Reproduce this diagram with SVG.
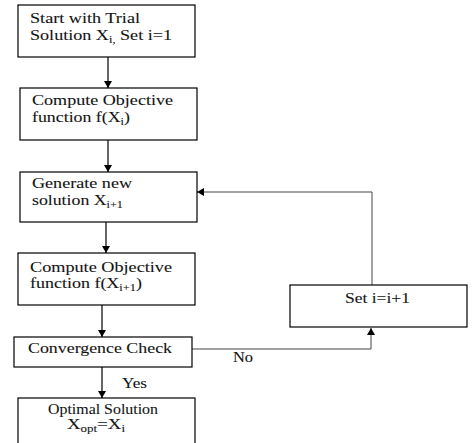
<svg xmlns="http://www.w3.org/2000/svg" width="475" height="443" viewBox="0 0 475 443">
<style>
.box{fill:#fff;stroke:#000;stroke-width:1.2}
.t{font-family:"Liberation Serif","Times New Roman",serif;font-size:14.5px;fill:#111;stroke:#333;stroke-width:0.1}
.s{font-size:10px}
.c{fill:none;stroke:#000;stroke-width:1.2}
.g{fill:none;stroke:#444;stroke-width:1}
</style>
<defs>
<marker id="ah" markerWidth="8" markerHeight="8" refX="7" refY="4" orient="auto" markerUnits="userSpaceOnUse">
<path d="M0,0 L7,4 L0,8 Z" fill="#000"/>
</marker>
</defs>
<rect width="475" height="443" fill="#fff"/>
<g id="connectors">
<line class="c" x1="108" y1="57" x2="108" y2="88" marker-end="url(#ah)"/>
<line class="c" x1="108" y1="140" x2="108" y2="172" marker-end="url(#ah)"/>
<line class="c" x1="106" y1="222" x2="106" y2="253" marker-end="url(#ah)"/>
<line class="c" x1="102" y1="305" x2="102" y2="337" marker-end="url(#ah)"/>
<line class="c" x1="102" y1="367" x2="102" y2="398" marker-end="url(#ah)"/>
<polyline class="g" points="192,349 371,349 371,328" marker-end="url(#ah)"/>
<polyline class="g" points="372,285 372,192 197,192" marker-end="url(#ah)"/>
<text class="t" x="233" y="362" textLength="20" lengthAdjust="spacingAndGlyphs">No</text>
<text class="t" x="122" y="388" textLength="25" lengthAdjust="spacingAndGlyphs">Yes</text>
</g>
<g id="start">
<rect class="box" x="18" y="5" width="177" height="52"/>
<text class="t" x="30" y="23" textLength="110" lengthAdjust="spacingAndGlyphs">Start with Trial</text>
<text class="t" x="30" y="40" textLength="142" lengthAdjust="spacingAndGlyphs">Solution X<tspan class="s" dy="3">i,</tspan><tspan dy="-3"> Set i=1</tspan></text>
</g>
<g id="compute1">
<rect class="box" x="20" y="88" width="177" height="52"/>
<text class="t" x="32" y="105" textLength="141" lengthAdjust="spacingAndGlyphs">Compute Objective</text>
<text class="t" x="32" y="122" textLength="98" lengthAdjust="spacingAndGlyphs">function f(X<tspan class="s" dy="3">i</tspan><tspan dy="-3">)</tspan></text>
</g>
<g id="generate">
<rect class="box" x="20" y="172" width="177" height="50"/>
<text class="t" x="32" y="188" textLength="100" lengthAdjust="spacingAndGlyphs">Generate new</text>
<text class="t" x="32" y="205" textLength="91" lengthAdjust="spacingAndGlyphs">solution X<tspan class="s" dy="3">i+1</tspan></text>
</g>
<g id="compute2">
<rect class="box" x="18" y="253" width="177" height="52"/>
<text class="t" x="30" y="272" textLength="142" lengthAdjust="spacingAndGlyphs">Compute Objective</text>
<text class="t" x="30" y="288" textLength="112" lengthAdjust="spacingAndGlyphs">function f(X<tspan class="s" dy="3">i+1</tspan><tspan dy="-3">)</tspan></text>
</g>
<g id="convergence">
<rect class="box" x="14" y="337" width="178" height="30"/>
<text class="t" x="28" y="353" textLength="144" lengthAdjust="spacingAndGlyphs">Convergence Check</text>
</g>
<g id="increment">
<rect class="box" x="290" y="285" width="177" height="42"/>
<text class="t" x="345" y="303" textLength="65" lengthAdjust="spacingAndGlyphs">Set i=i+1</text>
</g>
<g id="optimal">
<rect class="box" x="18" y="398" width="177" height="60"/>
<text class="t" x="48" y="414" textLength="110" lengthAdjust="spacingAndGlyphs">Optimal Solution</text>
<text class="t" x="67" y="429" textLength="58" lengthAdjust="spacingAndGlyphs">X<tspan class="s" dy="3">opt</tspan><tspan dy="-3">=X</tspan><tspan class="s" dy="3">i</tspan></text>
</g>
</svg>
